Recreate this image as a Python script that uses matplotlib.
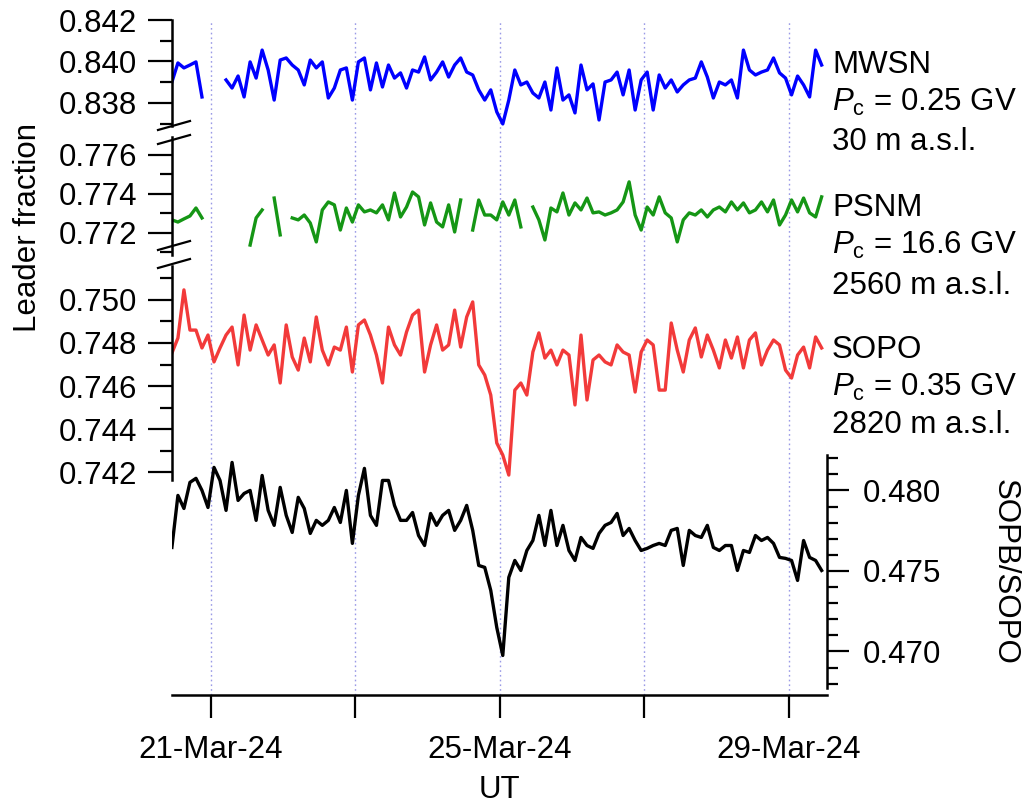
import numpy as np
import pandas as pd
import matplotlib
matplotlib.use('Agg')
import matplotlib.pyplot as plt
import matplotlib.dates as mdates
from matplotlib.ticker import FixedLocator, FixedFormatter, FormatStrFormatter
from matplotlib.lines import Line2D

plt.rcParams['font.family'] = ['Liberation Sans', 'DejaVu Sans']
plt.rcParams['mathtext.fontset'] = 'custom'
plt.rcParams['mathtext.rm'] = 'Liberation Sans'
plt.rcParams['mathtext.it'] = 'Liberation Sans:italic'

nan = float('nan')

# ---------------- data (2-hourly) ----------------
times = pd.date_range('2024-03-20 11:00', periods=109, freq='2h')

mwsn = [0.83901, 0.83993, 0.83969, 0.83983, 0.83998, 0.83829, nan, nan, nan, 0.83911,
        0.83872, 0.83930, 0.83829, 0.83998, 0.83920, 0.84055, 0.83959, 0.83814, 0.84007, 0.84017,
        0.83983, 0.83959, 0.83887, 0.84007, 0.83969, 0.83998, 0.83824, 0.83872, 0.83959, 0.83969,
        0.83814, 0.83998, 0.84017, 0.83863, 0.83993, 0.83877, 0.83983, 0.83920, 0.83945, 0.83872,
        0.83959, 0.83949, 0.84022, 0.83911, 0.83949, 0.83998, 0.83925, 0.83983, 0.84017, 0.83949,
        0.83935, 0.83863, 0.83814, 0.83863, 0.83757, 0.83699, 0.83814, 0.83959, 0.83887, 0.83901,
        0.83848, 0.83824, 0.83901, 0.83766, 0.83969, 0.83814, 0.83839, 0.83752, 0.83983, 0.83863,
        0.83892, 0.83718, 0.83901, 0.83911, 0.83949, 0.83839, 0.83959, 0.83766, 0.83911, 0.83949,
        0.83766, 0.83935, 0.83872, 0.83911, 0.83853, 0.83887, 0.83911, 0.83920, 0.83998, 0.83925,
        0.83824, 0.83901, 0.83887, 0.83911, 0.83824, 0.84055, 0.83959, 0.83935, 0.83949, 0.83959,
        0.84017, 0.83945, 0.83920, 0.83839, 0.83930, 0.83887, 0.83829, 0.84055, 0.83983]

psnm = [0.77267, 0.77256, 0.77272, 0.77287, 0.77328, 0.77277, nan, nan, nan, nan,
        nan, nan, nan, 0.77138, 0.77277, 0.77318, nan, 0.77379, 0.77190, nan,
        0.77277, 0.77267, 0.77292, 0.77251, 0.77154, 0.77318, 0.77359, 0.77344, 0.77215, 0.77328,
        0.77256, 0.77344, 0.77308, 0.77318, 0.77303, 0.77344, 0.77267, 0.77405, 0.77282, 0.77333,
        0.77410, 0.77385, 0.77241, 0.77354, 0.77256, 0.77231, 0.77344, 0.77205, 0.77369, nan,
        0.77215, 0.77369, 0.77292, 0.77292, 0.77267, 0.77359, 0.77292, 0.77369, 0.77231, nan,
        0.77333, 0.77267, 0.77164, 0.77328, 0.77308, 0.77405, 0.77292, 0.77354, 0.77318, 0.77379,
        0.77303, 0.77308, 0.77292, 0.77303, 0.77318, 0.77359, 0.77462, 0.77292, 0.77215, 0.77333,
        0.77292, 0.77385, 0.77303, 0.77277, 0.77154, 0.77267, 0.77303, 0.77292, 0.77318, 0.77282,
        0.77318, 0.77333, 0.77308, 0.77359, 0.77318, 0.77354, 0.77303, 0.77318, 0.77359, 0.77308,
        0.77369, 0.77241, 0.77292, 0.77369, 0.77308, 0.77379, 0.77303, 0.77282, 0.77385]

sopo = [0.74753, 0.74823, 0.75047, 0.74860, 0.74860, 0.74777, 0.74837, 0.74712, 0.74777, 0.74837,
        0.74874, 0.74698, 0.74930, 0.74767, 0.74884, 0.74814, 0.74744, 0.74791, 0.74614, 0.74884,
        0.74735, 0.74674, 0.74823, 0.74712, 0.74921, 0.74767, 0.74698, 0.74781, 0.74767, 0.74874,
        0.74665, 0.74884, 0.74907, 0.74837, 0.74744, 0.74614, 0.74874, 0.74791, 0.74744, 0.74851,
        0.74930, 0.74953, 0.74665, 0.74791, 0.74884, 0.74767, 0.74791, 0.74953, 0.74781, 0.74921,
        0.74991, 0.74698, 0.74651, 0.74558, 0.74335, 0.74279, 0.74186, 0.74581, 0.74614, 0.74558,
        0.74758, 0.74847, 0.74730, 0.74767, 0.74698, 0.74767, 0.74744, 0.74512, 0.74837, 0.74535,
        0.74721, 0.74744, 0.74712, 0.74698, 0.74791, 0.74758, 0.74744, 0.74572, 0.74758, 0.74814,
        0.74791, 0.74581, 0.74581, 0.74893, 0.74767, 0.74665, 0.74814, 0.74870, 0.74735, 0.74837,
        0.74767, 0.74684, 0.74814, 0.74730, 0.74828, 0.74684, 0.74814, 0.74847, 0.74698, 0.74767,
        0.74814, 0.74791, 0.74674, 0.74637, 0.74744, 0.74781, 0.74684, 0.74828, 0.74777]

ratio = [0.47646, 0.47969, 0.47888, 0.48050, 0.48075, 0.48000, 0.47894, 0.48143, 0.48062, 0.47876,
         0.48174, 0.47938, 0.47981, 0.48000, 0.47814, 0.48093, 0.47876, 0.47783, 0.48019, 0.47845,
         0.47739, 0.47957, 0.47888, 0.47733, 0.47814, 0.47783, 0.47814, 0.47894, 0.47801, 0.48000,
         0.47671, 0.47969, 0.48137, 0.47845, 0.47783, 0.48062, 0.48062, 0.47907, 0.47814, 0.47814,
         0.47863, 0.47720, 0.47658, 0.47857, 0.47783, 0.47845, 0.47876, 0.47752, 0.47814, 0.47907,
         0.47752, 0.47534, 0.47522, 0.47379, 0.47149, 0.46975, 0.47460, 0.47565, 0.47503, 0.47627,
         0.47689, 0.47845, 0.47658, 0.47876, 0.47658, 0.47783, 0.47627, 0.47565, 0.47708, 0.47658,
         0.47640, 0.47733, 0.47783, 0.47801, 0.47857, 0.47720, 0.47764, 0.47689, 0.47627, 0.47640,
         0.47658, 0.47671, 0.47658, 0.47752, 0.47764, 0.47534, 0.47752, 0.47720, 0.47708, 0.47783,
         0.47646, 0.47627, 0.47658, 0.47658, 0.47503, 0.47627, 0.47615, 0.47720, 0.47689, 0.47708,
         0.47671, 0.47584, 0.47578, 0.47565, 0.47441, 0.47689, 0.47584, 0.47565, 0.47503]

tick_dates = pd.to_datetime(['2024-03-21', '2024-03-23', '2024-03-25', '2024-03-27', '2024-03-29'])
tick_labels = ['21-Mar-24', '', '25-Mar-24', '', '29-Mar-24']

station_text = [
    ('MWSN', r'$P_{\mathrm{c}}$ = 0.25 GV', '30 m a.s.l.'),
    ('PSNM', r'$P_{\mathrm{c}}$ = 16.6 GV', '2560 m a.s.l.'),
    ('SOPO', r'$P_{\mathrm{c}}$ = 0.35 GV', '2820 m a.s.l.'),
]

# ---------------- layout ----------------
FS = 22.5
LW = 2.4
W, H = 1024.0, 807.0
L, R = 172, 827
fig = plt.figure(figsize=(10.24, 8.07), dpi=100)

def add_px_axes(top, bottom):
    ax = fig.add_axes([L / W, 1 - bottom / H, (R - L) / W, (bottom - top) / H])
    ax.patch.set_alpha(0)
    return ax

xmin = pd.Timestamp('2024-03-20 11:02')
xmax = pd.Timestamp('2024-03-29 12:47')

# vertical dotted guide lines
ax_v = add_px_axes(20, 695)
ax_v.set_xlim(xmin, xmax)
for s in ax_v.spines.values():
    s.set_visible(False)
ax_v.set_xticks([]); ax_v.set_yticks([])
for d in tick_dates:
    ax_v.axvline(d, color='#9a9ae6', lw=1.0, ls=(0, (1.2, 2.2)))

# right axis (SOPB/SOPO) with time axis at bottom
ax_b = add_px_axes(455, 688)
ax_b.plot(times, ratio, color='black', lw=LW)
ax_b.set_xlim(xmin, xmax)
ax_b.set_ylim(0.46773, 0.48220)
for s in ['top', 'left']:
    ax_b.spines[s].set_visible(False)
ax_b.spines['right'].set_linewidth(1.8)
ax_b.spines['bottom'].set_linewidth(1.8)
ax_b.spines['bottom'].set_position(('outward', 5))
ax_b.yaxis.tick_right()
ax_b.yaxis.set_major_locator(FixedLocator([0.470, 0.475, 0.480]))
ax_b.yaxis.set_minor_locator(FixedLocator([0.468, 0.469, 0.471, 0.472, 0.473, 0.474,
                                           0.476, 0.477, 0.478, 0.479, 0.481, 0.482]))
ax_b.yaxis.set_major_formatter(FormatStrFormatter('%.3f'))
ax_b.tick_params(axis='y', which='major', direction='out', length=15.5, width=1.6,
                 labelsize=FS, pad=10)
ax_b.tick_params(axis='y', which='minor', direction='out', length=8, width=1.6)
ax_b.xaxis.set_major_locator(FixedLocator(mdates.date2num(tick_dates)))
ax_b.xaxis.set_major_formatter(FixedFormatter(tick_labels))
ax_b.xaxis.set_minor_locator(FixedLocator([]))
ax_b.tick_params(axis='x', which='major', direction='out', length=16.5, width=1.6,
                 labelsize=FS, pad=12)

# left axes segments
segments = [
    (20, 126, mwsn, '#0000ff', (0.83689, 0.842),
     [0.838, 0.840, 0.842], [0.837, 0.839, 0.841]),
    (137, 255, psnm, '#159615', (0.77087, 0.77692),
     [0.772, 0.774, 0.776], [0.771, 0.773, 0.775]),
    (266, 480, sopo, '#f23a3a', (0.74163, 0.75158),
     [0.742, 0.744, 0.746, 0.748, 0.750], [0.743, 0.745, 0.747, 0.749, 0.751]),
]
for top, bottom, vals, col, ylim, majors, minors in segments:
    ax = add_px_axes(top, bottom)
    ax.plot(times, vals, color=col, lw=LW)
    ax.set_xlim(xmin, xmax)
    ax.set_ylim(*ylim)
    for s in ['top', 'right', 'bottom']:
        ax.spines[s].set_visible(False)
    ax.spines['left'].set_linewidth(1.8)
    ax.set_xticks([])
    ax.yaxis.set_major_locator(FixedLocator(majors))
    ax.yaxis.set_minor_locator(FixedLocator(minors))
    ax.yaxis.set_major_formatter(FormatStrFormatter('%.3f'))
    ax.tick_params(axis='y', which='major', direction='out', length=17, width=1.6,
                   labelsize=FS, pad=8)
    ax.tick_params(axis='y', which='minor', direction='out', length=8.5, width=1.6)

# axis-break marks on the left spine
for (x1, y1, x2, y2) in [(158, 130, 190, 121), (158, 144, 190, 135),
                         (158, 250, 190, 241), (158, 268, 190, 259)]:
    fig.add_artist(Line2D([x1 / W, x2 / W], [1 - y1 / H, 1 - y2 / H],
                          transform=fig.transFigure, color='black', lw=1.6))

# station annotations (baselines in pixels)
for (name, pc, alt), (b1, b2, b3) in zip(station_text,
                                          [(73, 111, 150), (216, 254, 294), (358, 396, 433)]):
    fig.text(832 / W, 1 - b1 / H, name, fontsize=FS, ha='left', va='baseline')
    fig.text(832 / W, 1 - b2 / H, pc, fontsize=FS, ha='left', va='baseline')
    fig.text(832 / W, 1 - b3 / H, alt, fontsize=FS, ha='left', va='baseline')

fig.text(28 / W, 1 - 228 / H, 'Leader fraction', rotation=90, fontsize=FS,
         ha='center', va='center')
fig.text(1005 / W, 1 - 572 / H, 'SOPB/SOPO', rotation=270, fontsize=FS,
         ha='center', va='center')
fig.text(499 / W, 1 - 790 / H, 'UT', fontsize=FS, ha='center', va='center')

fig.savefig('out.png', dpi=100)
